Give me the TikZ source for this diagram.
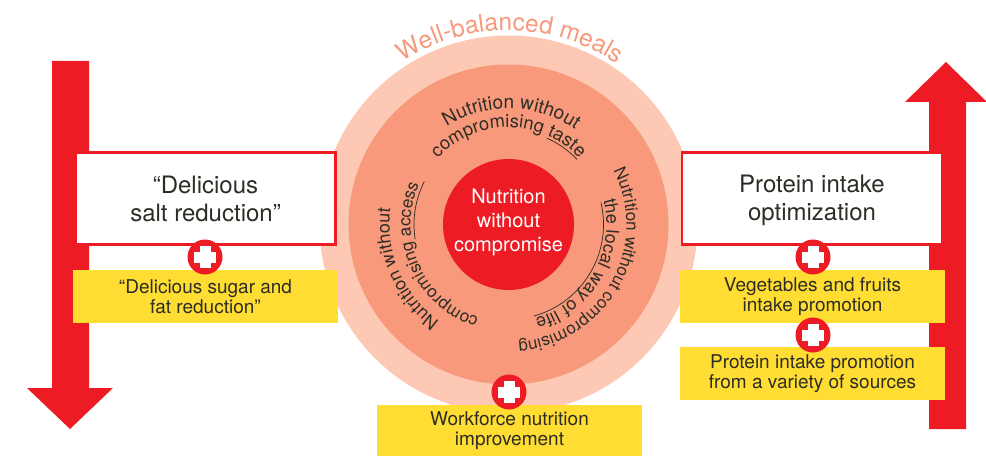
\documentclass[tikz,border=0pt]{standalone}
\usepackage{fontspec}
\setmainfont{TeX Gyre Heros}
\usetikzlibrary{decorations.text}
\definecolor{mainred}{HTML}{ED1C24}
\definecolor{markyellow}{HTML}{FFDD33}
\definecolor{midsalmon}{HTML}{F7997A}
\definecolor{palesalmon}{HTML}{FDC9B4}
\definecolor{inkdark}{HTML}{2D2D26}
\newcommand{\fsz}[2]{\fontsize{#1}{#2}\selectfont}
% radius, centre angle, half span, size, colour, text
\newcommand{\arctext}[6]{%
  \path[decorate,decoration={text along path,text align=center,
    text={|\fsz{#4}{#4}\color{#5}|#6}}]
    (508.5,231.5) ++(#2+#3:#1) arc[start angle=#2+#3,end angle=#2-#3,radius=#1];}
\newcommand{\plusmark}[3]{%
  \node[plusdisc] (#1) at (#2,#3) {};
  \fill[white] (#2-11,#3-5.5) rectangle (#2+11,#3+5.5);
  \fill[white] (#2-5.5,#3-11) rectangle (#2+5.5,#3+11);}
\tikzset{
  x=1pt,y=1pt,
  whitebox/.style={draw=mainred,line width=2.5pt,fill=white,minimum width=260pt,minimum height=92pt,
     inner sep=0pt,align=center,text=inkdark,font=\fsz{24}{28}},
  yellowbox/.style={fill=markyellow,minimum width=265pt,minimum height=53pt,inner sep=0pt,
     align=center,text=inkdark,font=\fsz{19}{20.5}},
  plusdisc/.style={circle,fill=mainred,minimum size=35pt,inner sep=0pt},
  underl/.style={draw=inkdark,line width=0.7pt},
}
\begin{document}
\begin{tikzpicture}
\useasboundingbox (0,0) rectangle (986,456);
% arrows
\fill[mainred] (52,395) -- (89,395) -- (89,68) -- (113,68) -- (70,27) -- (27,68) -- (52,68) -- cycle;
\fill[mainred] (929,27) -- (966,27) -- (966,354) -- (987,354) -- (946,394) -- (905,354) -- (929,354) -- cycle;
% discs
\node[circle,fill=palesalmon,minimum size=378pt,inner sep=0pt] (outer) at (508.5,231.5) {};
\node[circle,fill=midsalmon,minimum size=320pt,inner sep=0pt] (middle) at (508.5,231.5) {};
\node[circle,fill=mainred,minimum size=131pt,inner sep=0pt] (core) at (508.5,231.5) {};
\node[align=center,text=white,inner sep=0pt,font=\fsz{20}{24}] (corelabel) at (508.5,233.5) {Nutrition\\without\\compromise};
% boxes
\node[whitebox] (salt) at (205.5,257.5) {“Delicious\\salt reduction”};
\node[whitebox] (protein) at (812,257.5) {\rule{0pt}{22pt}Protein intake\\optimization};
\node[yellowbox] (sugar) at (205.5,159.5) {“Delicious sugar and\\fat reduction”};
\node[yellowbox] (veg) at (812.5,159.5) {Vegetables and fruits\\intake promotion};
\node[yellowbox] (var) at (812.5,82.5) {Protein intake promotion\\from a variety of sources};
\node[yellowbox,minimum height=51pt] (work) at (509.5,25.5) {Workforce nutrition\\improvement};
\plusmark{p1}{205}{199}
\plusmark{p2}{813}{199}
\plusmark{p3}{813}{121}
\plusmark{p4}{509}{64}
% curved texts
\arctext{194}{89.5}{85}{24.5}{midsalmon}{Well-balanced meals}
\arctext{116}{88.5}{75}{19}{inkdark}{Nutrition without}
\arctext{97}{90}{75}{18.3}{inkdark}{compromising taste}
\arctext{118}{-29}{85}{17}{inkdark}{Nutrition without compromising}
\arctext{98}{-30}{80}{18}{inkdark}{the local way of life}
\arctext{119}{203.5}{75}{18}{inkdark}{Nutrition without}
\arctext{98}{204}{80}{17.2}{inkdark}{compromising access}
% underlines
\draw[underl] (508.5,231.5) ++(66:94.5) arc[start angle=66,end angle=43.5,radius=94.5];
\draw[underl] (508.5,231.5) ++(13.5:95) arc[start angle=13.5,end angle=-74.5,radius=95];
\draw[underl] (508.5,231.5) ++(189:94.5) arc[start angle=189,end angle=153,radius=94.5];
\end{tikzpicture}
\end{document}
